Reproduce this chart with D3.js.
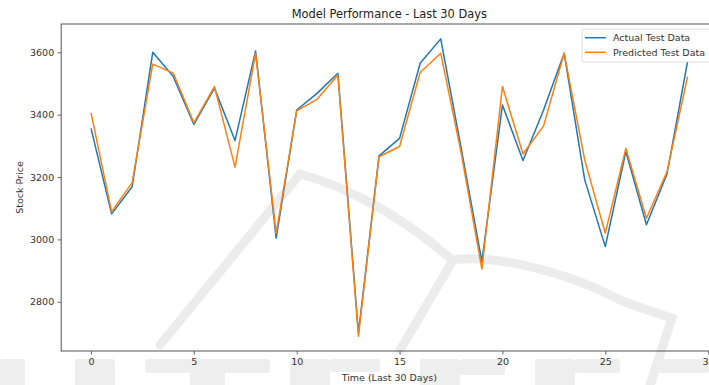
<!DOCTYPE html>
<html>
<head>
<meta charset="utf-8">
<script src="https://cdn.jsdelivr.net/npm/d3@7"></script>
<style>
  html, body { margin: 0; padding: 0; background: #fff; }
  svg { display: block; font-family: "DejaVu Sans", sans-serif; }
</style>
</head>
<body>
<svg id="chart" width="709" height="385"></svg>
<script>
// values
const days = d3.range(30);
const actualTest = [3356, 3082, 3169, 3600, 3522, 3369, 3485, 3317, 3604, 3004,
                    3415, 3469, 3533, 2700, 3268, 3324, 3565, 3643, 3290, 2929,
                    3431, 3253, 3415, 3597, 3191, 2977, 3282, 3047, 3210, 3570];
const predictedTest = [3406, 3089, 3182, 3562, 3533, 3374, 3490, 3232, 3597, 3020,
                       3412, 3450, 3527, 2690, 3265, 3298, 3535, 3597, 3275, 2905,
                       3490, 3274, 3364, 3597, 3255, 3020, 3292, 3068, 3217, 3522];
const xTicks = [0, 5, 10, 15, 20, 25, 30];
const yTicks = [2800, 3000, 3200, 3400, 3600];
const seriesNames = ['Actual Test Data', 'Predicted Test Data'];

const colors = ['#1f77b4', '#ff7f0e'];
const margin = { left: 61.2, top: 24, right: 717.4, bottom: 351 };

const svg = d3.select('#chart');

// faint watermark behind the plot (shapes only)
const wm = svg.append('g').attr('fill', 'none').attr('stroke', '#ececec')
  .attr('stroke-width', 9).attr('stroke-linecap', 'round');
wm.append('path').attr('d', 'M160,345 L300,174 C330,182 390,205 452,260');
wm.append('path').attr('d', 'M452,260 C490,255 560,268 620,300 C645,310 660,314 672,318 L650,385');
wm.append('path').attr('d', 'M452,262 L400,350');
const blocks = svg.append('g').attr('fill', '#eeeeee');
[[0, 359, 25, 30], [75, 359, 40, 30], [145, 359, 125, 14], [190, 359, 35, 30],
 [290, 359, 40, 30], [330, 359, 50, 13], [420, 359, 40, 30], [460, 359, 45, 16],
 [535, 359, 40, 30], [575, 359, 45, 14], [655, 359, 54, 14]]
  .forEach(b => blocks.append('rect').attr('x', b[0]).attr('y', b[1]).attr('width', b[2]).attr('height', b[3]).attr('rx', 3));

const allVals = actualTest.concat(predictedTest);
const yMin = d3.min(allVals), yMax = d3.max(allVals);
const yPad = (yMax - yMin) * 0.05;

const x = d3.scaleLinear().domain([-1.45, 30.45]).range([margin.left, margin.right]);
const y = d3.scaleLinear().domain([yMin - yPad, yMax + yPad]).range([margin.bottom, margin.top]);

// axes
const xAxis = svg.append('g')
  .attr('transform', `translate(0,${margin.bottom})`)
  .call(d3.axisBottom(x).tickValues(xTicks).tickSize(3.5).tickPadding(3.5).tickFormat(d3.format('d')));
const yAxis = svg.append('g')
  .attr('transform', `translate(${margin.left},0)`)
  .call(d3.axisLeft(y).tickValues(yTicks).tickSize(3.5).tickPadding(3.5).tickFormat(d3.format('d')));

[xAxis, yAxis].forEach(a => {
  a.select('.domain').remove();
  a.selectAll('.tick line').attr('stroke', '#444').attr('stroke-width', 0.8);
  a.selectAll('.tick text').attr('fill', '#333').style('font-size', '9.5px')
    .style('font-family', '"DejaVu Sans", sans-serif');
});

// lines
const line = d3.line().x((d, i) => x(days[i])).y(d => y(d));
[actualTest, predictedTest].forEach((vals, k) => {
  svg.append('path')
    .datum(vals)
    .attr('fill', 'none')
    .attr('stroke', colors[k])
    .attr('stroke-width', 1.5)
    .attr('stroke-linejoin', 'round')
    .attr('d', line);
});

// spines
svg.append('rect')
  .attr('x', margin.left).attr('y', margin.top)
  .attr('width', margin.right - margin.left).attr('height', margin.bottom - margin.top)
  .attr('fill', 'none').attr('stroke', '#555').attr('stroke-width', 1);

// legend
const lg = svg.append('g').attr('transform', 'translate(582,29)');
lg.append('rect')
  .attr('width', 132).attr('height', 33).attr('rx', 2)
  .attr('fill', '#fff').attr('fill-opacity', 0.8)
  .attr('stroke', '#d6d6d6').attr('stroke-width', 0.8);
seriesNames.forEach((name, k) => {
  const cy = 8.7 + k * 14.6;
  lg.append('line').attr('x1', 3).attr('x2', 24).attr('y1', cy).attr('y2', cy)
    .attr('stroke', colors[k]).attr('stroke-width', 1.5);
  lg.append('text').attr('x', 31).attr('y', cy + 3.4)
    .attr('font-size', 9.5).attr('fill', '#333').text(name);
});

// titles
svg.append('text')
  .attr('x', (margin.left + margin.right) / 2).attr('y', 18)
  .attr('text-anchor', 'middle').attr('font-size', 11.4).attr('fill', '#222')
  .text('Model Performance - Last 30 Days');
svg.append('text')
  .attr('x', (margin.left + margin.right) / 2).attr('y', 380.5)
  .attr('text-anchor', 'middle').attr('font-size', 9.5).attr('fill', '#333')
  .text('Time (Last 30 Days)');
svg.append('text')
  .attr('transform', `translate(22.5,${(margin.top + margin.bottom) / 2}) rotate(-90)`)
  .attr('text-anchor', 'middle').attr('font-size', 9.5).attr('fill', '#333')
  .text('Stock Price');
</script>
</body>
</html>
